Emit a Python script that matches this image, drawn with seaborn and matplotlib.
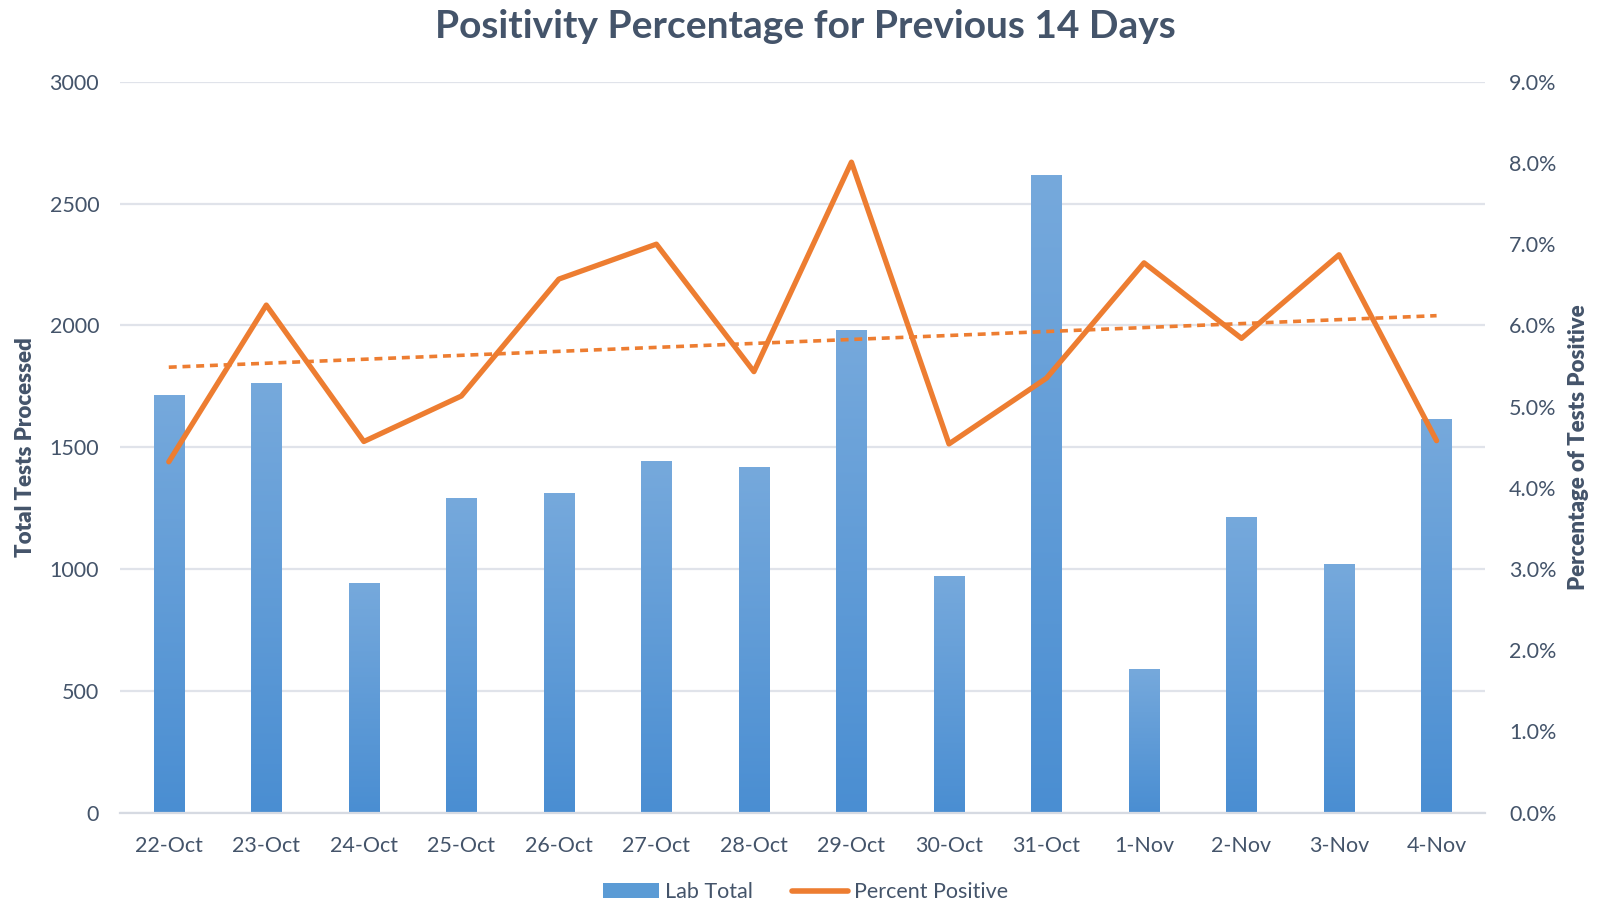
import numpy as np
import pandas as pd
import matplotlib
matplotlib.use("Agg")
import matplotlib.pyplot as plt
import seaborn as sns
from matplotlib.colors import LinearSegmentedColormap
from matplotlib.lines import Line2D
from matplotlib.patches import Patch
from matplotlib.ticker import FuncFormatter, MultipleLocator, FixedLocator

days = ["22-Oct", "23-Oct", "24-Oct", "25-Oct", "26-Oct", "27-Oct", "28-Oct",
        "29-Oct", "30-Oct", "31-Oct", "1-Nov", "2-Nov", "3-Nov", "4-Nov"]
lab_total = [1713, 1764, 941, 1291, 1312, 1443, 1418,
             1983, 970, 2616, 591, 1215, 1021, 1616]
pct_positive = [4.32, 6.25, 4.57, 5.13, 6.57, 7.00, 5.43,
                8.01, 4.54, 5.35, 6.77, 5.84, 6.87, 4.58]

TEXT = "#44546A"
ORANGE = "#ED7D31"
GRID = "#E0E3EA"

sns.set_style("white")
plt.rcParams["font.family"] = ["Lato", "DejaVu Sans"]

df = pd.DataFrame({"day": days, "total": lab_total, "pct": pct_positive})

fig, ax = plt.subplots(figsize=(16.11, 9.08), dpi=100)
fig.subplots_adjust(left=0.0745, right=0.922, bottom=0.105, top=0.91)

sns.barplot(data=df, x="day", y="total", color="#5B9BD5", width=0.31,
            saturation=1, ax=ax, zorder=2)

# vertical gradient fill on each bar, like the Excel original
cmap = LinearSegmentedColormap.from_list("bar", ["#4A8ED2", "#76A9DC"])
grad = np.linspace(0, 1, 256).reshape(-1, 1)
for p in ax.patches:
    x0, y0 = p.get_x(), p.get_y()
    w, h = p.get_width(), p.get_height()
    im = ax.imshow(grad, cmap=cmap, origin="lower", aspect="auto",
                   extent=[x0, x0 + w, y0, y0 + h], zorder=2)
    im.set_clip_path(p)
    p.set_facecolor("none")
    p.set_edgecolor("none")

ax.set_xlim(-0.5, len(days) - 0.5)
ax.set_ylim(0, 3000)
ax.yaxis.set_major_locator(MultipleLocator(500))
ax.grid(axis="y", color=GRID, linewidth=1.6, zorder=0)
ax.set_axisbelow(True)
for s in ["top", "right", "left"]:
    ax.spines[s].set_visible(False)
ax.spines["bottom"].set_color("#D6DAE2")
ax.spines["bottom"].set_linewidth(1.6)
ax.xaxis.set_minor_locator(FixedLocator(np.arange(-0.5, len(days), 1)))
ax.tick_params(axis="x", which="major", length=0, pad=17, labelsize=15.5, labelcolor=TEXT)
ax.tick_params(axis="x", which="minor", length=8, width=1.6, color="#D6DAE2")
ax.tick_params(axis="y", length=0, pad=15, labelsize=15.5, labelcolor=TEXT)
ax.set_xlabel("")
ax.set_ylabel("Total Tests Processed", fontsize=16, fontweight="heavy", color=TEXT, labelpad=10)

ax2 = ax.twinx()
xs = np.arange(len(days))
sns.lineplot(x=xs, y=pct_positive, ax=ax2, color=ORANGE, linewidth=3.8, zorder=3)
slope, icpt = np.polyfit(xs, pct_positive, 1)
ax2.plot(xs, slope * xs + icpt, color=ORANGE, linewidth=2.6, linestyle=(0, (2.2, 1.6)), zorder=3)
ax2.set_ylim(0, 9)
ax2.yaxis.set_major_locator(MultipleLocator(1))
ax2.yaxis.set_major_formatter(FuncFormatter(lambda v, _: f"{v:.1f}%"))
ax2.tick_params(axis="y", length=0, pad=17, labelsize=15.5, labelcolor=TEXT)
for s in ["top", "right", "left", "bottom"]:
    ax2.spines[s].set_visible(False)
ax2.set_ylabel("Percentage of Tests Positive", fontsize=16, fontweight="heavy", color=TEXT, labelpad=8)
ax2.grid(False)

fig.suptitle("Positivity Percentage for Previous 14 Days", fontsize=28,
             fontweight="bold", color=TEXT, y=0.99, va="top")

handles = [Patch(facecolor="#5B9BD5", edgecolor="none"),
           Line2D([0], [0], color=ORANGE, linewidth=4, solid_capstyle="round")]
fig.legend(handles, ["Lab Total", "Percent Positive"], loc="lower center",
           bbox_to_anchor=(0.5, -0.015), ncol=2, frameon=False, fontsize=15.5,
           labelcolor=TEXT, handlelength=2.6, handletextpad=0.3, columnspacing=1.8)

fig.savefig("out.png", dpi=100)
